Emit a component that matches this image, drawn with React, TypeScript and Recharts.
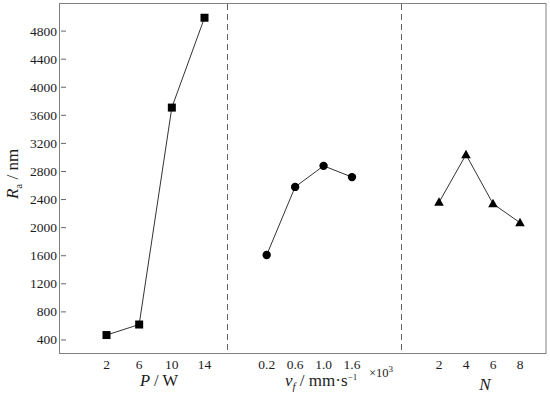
import { LineChart, Line, XAxis, YAxis } from 'recharts'

const yTicks = [400, 800, 1200, 1600, 2000, 2400, 2800, 3200, 3600, 4000, 4400, 4800]

const powerLevels = ['2', '6', '10', '14']
const raByPower = [470, 620, 3710, 4990]

const speedLevels = ['0.2', '0.6', '1.0', '1.6']
const raBySpeed = [1610, 2580, 2880, 2720]

const passLevels = ['2', '4', '6', '8']
const raByPasses = [2360, 3040, 2340, 2070]

const serif = 'Liberation Serif'
const ink = '#1c1c1c'
const H = 397

const toRows = (levels: string[], values: number[]) =>
    levels.map((level, i) => ({ level, ra: values[i] }))

function SquareDot(props: any) {
    const { cx, cy, index } = props
    if (cx == null || cy == null) return <g key={index} />
    return <rect key={index} x={cx - 4} y={cy - 4} width={8} height={8} fill="#000" />
}

function CircleDot(props: any) {
    const { cx, cy, index } = props
    if (cx == null || cy == null) return <g key={index} />
    return <circle key={index} cx={cx} cy={cy} r={4.2} fill="#000" />
}

function TriangleDot(props: any) {
    const { cx, cy, index } = props
    if (cx == null || cy == null) return <g key={index} />
    return (
        <polygon
            key={index}
            points={`${cx},${cy - 5} ${cx - 4.8},${cy + 3.5} ${cx + 4.8},${cy + 3.5}`}
            fill="#000"
        />
    )
}

function YTick({ x, y, payload }: any) {
    return (
        <g>
            <text x={x} y={y} dy={4.5} textAnchor="end" fontSize={13.5} fontFamily={serif} fill={ink}>
                {payload.value}
            </text>
            <line x1={x + 4} x2={x + 9} y1={y} y2={y} stroke="#666" />
        </g>
    )
}

function XTick({ x, y, payload }: any) {
    return (
        <text x={x} y={y} dy={9.5} textAnchor="middle" fontSize={13.5} fontFamily={serif} fill={ink}>
            {payload.value}
        </text>
    )
}

interface PanelProps {
    left: number
    width: number
    rows: { level: string; ra: number }[]
    padding: { left: number; right: number }
    dot: (props: any) => any
    withYAxis?: boolean
}

function Panel({ left, width, rows, padding, dot, withYAxis }: PanelProps) {
    return (
        <LineChart
            width={width}
            height={H}
            data={rows}
            margin={{ top: 3, right: 0, bottom: 0, left: 0 }}
            style={{ position: 'absolute', left, top: 0 }}
        >
            <XAxis
                dataKey="level"
                type="category"
                padding={padding}
                height={43}
                axisLine={false}
                tickLine={false}
                tickSize={0}
                tickMargin={5}
                interval={0}
                tick={<XTick />}
            />
            <YAxis
                type="number"
                domain={[200, 5200]}
                ticks={yTicks}
                interval={0}
                hide={!withYAxis}
                width={60}
                axisLine={false}
                tickLine={false}
                tickSize={0}
                tickMargin={3}
                tick={<YTick />}
            />
            <Line
                dataKey="ra"
                stroke="#333"
                strokeWidth={1}
                dot={dot}
                activeDot={false}
                isAnimationActive={false}
            />
        </LineChart>
    )
}

export default function App() {
    return (
        <div style={{ position: 'absolute', left: 0, top: 0, width: 550, height: H, background: '#fff' }}>
            <Panel
                left={0}
                width={228}
                rows={toRows(powerLevels, raByPower)}
                padding={{ left: 46.5, right: 23.5 }}
                dot={SquareDot}
                withYAxis
            />
            <Panel
                left={228}
                width={173}
                rows={toRows(speedLevels, raBySpeed)}
                padding={{ left: 38.7, right: 49 }}
                dot={CircleDot}
            />
            <Panel
                left={401}
                width={145}
                rows={toRows(passLevels, raByPasses)}
                padding={{ left: 38, right: 26 }}
                dot={TriangleDot}
            />
            <svg
                width={550}
                height={H}
                style={{ position: 'absolute', left: 0, top: 0, pointerEvents: 'none' }}
                fill={ink}
                fontFamily={serif}
            >
                {/* frame and panel dividers */}
                <rect x={59.5} y={3.5} width={486.5} height={350} fill="none" stroke="#808080" />
                <line x1={227.5} x2={227.5} y1={4} y2={353} stroke="#606060" strokeDasharray="6 4" />
                <line x1={401.5} x2={401.5} y1={4} y2={353} stroke="#606060" strokeDasharray="6 4" />

                {/* y title */}
                <text transform="translate(18,174) rotate(-90)" textAnchor="middle" fontSize={17}>
                    <tspan fontStyle="italic">R</tspan>
                    <tspan fontSize={11} dy={4}>a</tspan>
                    <tspan dy={-4}>{'  / nm'}</tspan>
                </text>

                {/* x titles */}
                <text x={159} y={386} textAnchor="middle" fontSize={16.5}>
                    <tspan fontStyle="italic">P</tspan>
                    <tspan>{' / W'}</tspan>
                </text>
                <text x={285} y={386} fontSize={17}>
                    <tspan fontStyle="italic">v</tspan>
                    <tspan fontStyle="italic" fontSize={11} dy={4}>f</tspan>
                    <tspan dy={-4}>{'  / mm·s'}</tspan>
                    <tspan fontSize={9} dy={-6}>−1</tspan>
                </text>
                <text x={369} y={377} fontSize={12.5}>
                    <tspan>×10</tspan>
                    <tspan fontSize={9} dy={-5}>3</tspan>
                </text>
                <text x={485} y={390} textAnchor="middle" fontStyle="italic" fontSize={17}>
                    N
                </text>
            </svg>
        </div>
    )
}
